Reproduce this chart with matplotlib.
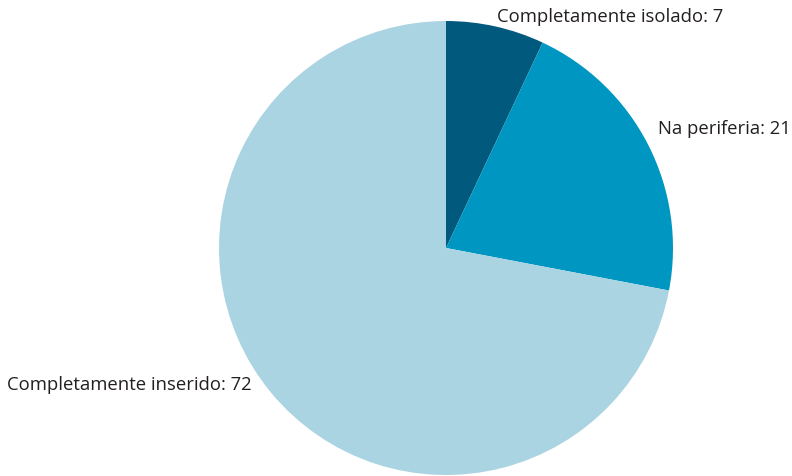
import matplotlib.pyplot as plt

categorias = ["Completamente isolado", "Na periferia", "Completamente inserido"]
valores = [7, 21, 72]
cores = ["#015a7e", "#0096c2", "#aad4e1"]

# posicao dos rotulos (pixels, origem no canto superior esquerdo)
pos_rotulos = [(497, 17), (658, 129), (7, 385)]

fig = plt.figure(figsize=(7.92, 4.76), dpi=100)
ax = fig.add_axes([0, 0, 1, 1])

# eixo y invertido -> startangle=-90 e counterclock=True ficam no sentido horario visualmente
wedges, _ = ax.pie(valores, colors=cores, startangle=-90, counterclock=True,
                   center=(446, 248), radius=227, frame=True,
                   wedgeprops=dict(linewidth=0))
ax.set_xlim(0, 792)
ax.set_ylim(476, 0)
ax.set_aspect("equal")
ax.axis("off")

for cat, val, (x, y) in zip(categorias, valores, pos_rotulos):
    ax.text(x, y, f"{cat}: {val}", fontsize=13.3, family="Open Sans",
            color="#231f20", va="center", ha="left")

fig.savefig("out.png", dpi=100)
